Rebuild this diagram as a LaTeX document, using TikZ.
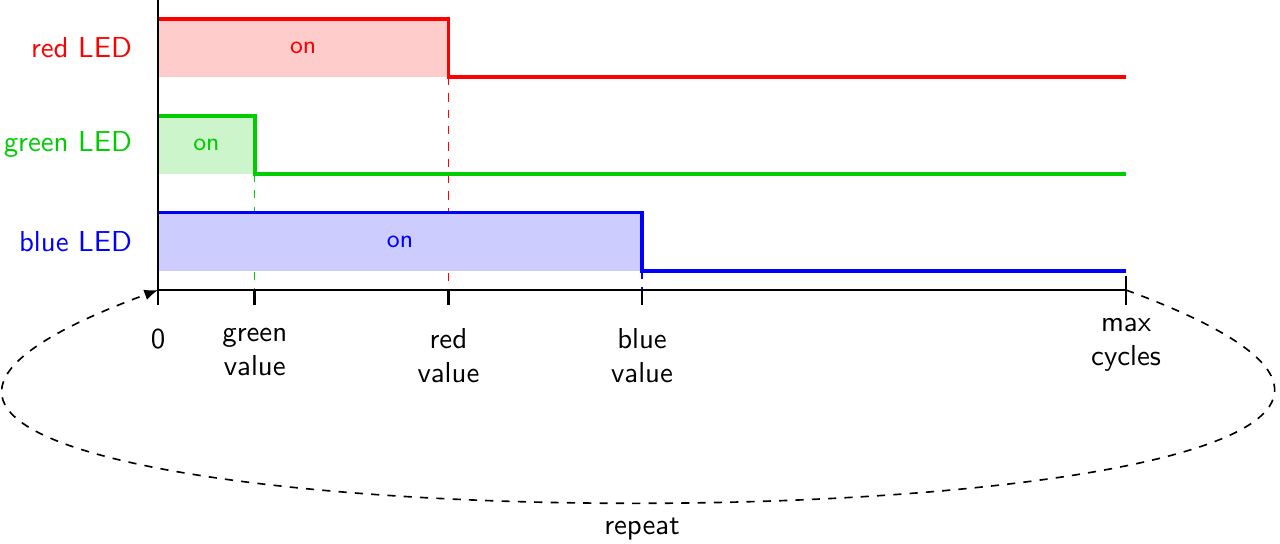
\documentclass[tikz,border=0pt]{standalone}
\usetikzlibrary{arrows.meta}
\begin{document}
\begin{tikzpicture}[
  x=1.25cm, y=1.25cm, font=\sffamily\fontsize{10.6}{12.4}\selectfont,
  axis/.style={line width=1pt, black},
  sig/.style={line width=1.4pt},
  marker/.style={dashed, thin},
  ledlabel/.style={anchor=east},
  onlabel/.style={font=\sffamily\fontsize{9.2}{11}\selectfont},
  ticklabel/.style={anchor=north, align=center},
  repeatarrow/.style={dashed, line width=0.6pt, -{Latex[length=5pt, width=4pt]}}
]
\colorlet{ledgreen}{green!80!black}
\useasboundingbox (-1.632,-2.614) rectangle (11.59,2.996);

\coordinate (o) at (0,0);
\coordinate (max) at (10,0);
\coordinate (top) at (0,3);

\draw[marker, red] (3,2.2) -- (3,0);
\draw[marker, ledgreen] (1,1.2) -- (1,0);
\draw[marker, blue] (5,0.2) -- (5,0);

\fill[red!20] (0,2.2) rectangle (3,2.8);
\fill[ledgreen!20] (0,1.2) rectangle (1,1.8);
\fill[blue!20] (0,0.2) rectangle (5,0.8);

\draw[sig, red] (0,2.8) -- (3,2.8) -- (3,2.2) -- (10,2.2);
\draw[sig, ledgreen] (0,1.8) -- (1,1.8) -- (1,1.2) -- (10,1.2);
\draw[sig, blue] (0,0.8) -- (5,0.8) -- (5,0.2) -- (10,0.2);

\node[onlabel, red] (redon) at (1.5,2.5) {on};
\node[onlabel, ledgreen] (greenon) at (0.5,1.5) {on};
\node[onlabel, blue] (blueon) at (2.5,0.5) {on};

\node[ledlabel, red] (redled) at (-0.17,2.5) {red LED};
\node[ledlabel, ledgreen] (greenled) at (-0.17,1.5) {green LED};
\node[ledlabel, blue] (blueled) at (-0.17,0.5) {blue LED};

\draw[axis] (top) -- (o) -- (max);
\foreach \x in {0,1,3,5}
  \draw[axis] (\x,0) -- (\x,-0.15);
\draw[axis] (10,0.15) -- (10,-0.15);

\node[ticklabel] (zero) at (0,-0.3) {0};
\node[ticklabel] (greenval) at (1,-0.3) {green\\value};
\node[ticklabel] (redval) at (3,-0.3) {red\\value};
\node[ticklabel] (blueval) at (5,-0.3) {blue\\value};
\node[ticklabel] (maxval) at (10,-0.19) {max\\cycles};

\draw[repeatarrow] (max) .. controls (17.95,-2.93) and (-7.95,-2.93) .. node[below=2pt] (rep) {repeat} (o);
\end{tikzpicture}
\end{document}
